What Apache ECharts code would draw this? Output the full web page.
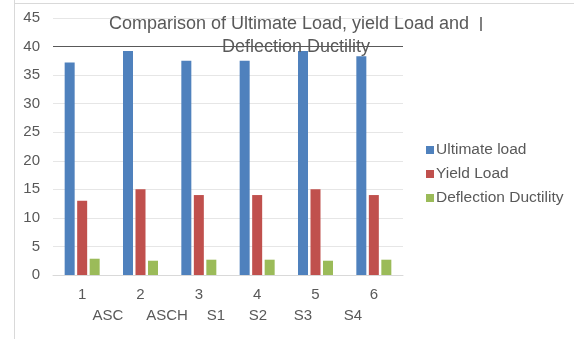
<!DOCTYPE html>
<html><head><meta charset="utf-8">
<script src="https://cdn.jsdelivr.net/npm/echarts@6/dist/echarts.min.js"></script>
<style>html,body{margin:0;padding:0;background:#fff}#c{width:574px;height:339px}</style>
</head><body><div id="c"></div>
<script>
const categories = ['1','2','3','4','5','6'];
const specimenLabels = ['ASC','ASCH','S1','S2','S3','S4'];
const ultimateLoad = [37.2, 39.2, 37.5, 37.5, 39.2, 38.3];
const yieldLoad = [13, 15, 14, 14, 15, 14];
const deflectionDuctility = [2.85, 2.5, 2.68, 2.68, 2.5, 2.68];
const refLineValue = 40;
const titleLines = ['Comparison of Ultimate Load, yield Load and', 'Deflection Ductility'];

const specimenX = [108, 167, 216, 258, 303, 353];
const chart = echarts.init(document.getElementById('c'));
const txt = '#595959';
const font = 'Arial, "Liberation Sans", sans-serif';
chart.setOption({
  animation: false,
  textStyle: {fontFamily: font},
  grid: {left: 53, right: 171, top: 18, bottom: 64, containLabel: false},
  legend: {
    orient: 'vertical', left: 421, top: 137, itemWidth: 8, itemHeight: 8, itemGap: 8,
    icon: 'rect', textStyle: {color: txt, fontSize: 15.5, fontFamily: font, padding: [0,0,0,-3]},
    data: ['Ultimate load', 'Yield Load', 'Deflection Ductility']
  },
  xAxis: {
    type: 'category', data: categories,
    axisLine: {lineStyle: {color: '#D9D9D9'}}, axisTick: {show: false},
    axisLabel: {color: txt, fontSize: 15, margin: 12, fontFamily: font}
  },
  yAxis: {
    type: 'value', min: 0, max: 45, interval: 5,
    axisLine: {show: false}, axisTick: {show: false},
    axisLabel: {color: txt, fontSize: 15, margin: 13, fontFamily: font},
    splitLine: {lineStyle: {color: '#E6E6E6'}}
  },
  series: [
    {name: 'Ultimate load', type: 'bar', data: ultimateLoad, barWidth: 10, barGap: '25%', itemStyle: {color: '#4F81BD'},
      markLine: {silent: true, symbol: 'none', label: {show: false}, lineStyle: {color: '#595959', type: 'solid', width: 1}, data: [{yAxis: refLineValue}]}},
    {name: 'Yield Load', type: 'bar', data: yieldLoad, barWidth: 10, barGap: '25%', itemStyle: {color: '#C0504D'}},
    {name: 'Deflection Ductility', type: 'bar', data: deflectionDuctility, barWidth: 10, barGap: '25%', itemStyle: {color: '#9BBB59'}}
  ],
  graphic: [
    {type: 'line', shape: {x1: 14.5, y1: 0, x2: 14.5, y2: 339}, style: {stroke: '#D9D9D9', lineWidth: 1}},
    {type: 'line', shape: {x1: 14, y1: 3.5, x2: 574, y2: 3.5}, style: {stroke: '#D9D9D9', lineWidth: 1}},
    {type: 'rect', shape: {x: 480, y: 17, width: 2, height: 14}, style: {fill: '#808080'}},
    {type: 'text', style: {text: titleLines[0], fill: txt, font: '18px ' + font, textAlign: 'center', textVerticalAlign: 'middle'}, x: 289, y: 24, z: 10},
    {type: 'text', style: {text: titleLines[1], fill: txt, font: '18px ' + font, textAlign: 'center', textVerticalAlign: 'middle'}, x: 296, y: 47, z: 10},
    ...specimenLabels.map((s, i) => ({type: 'text', style: {text: s, fill: txt, font: '15px ' + font, textAlign: 'center', textVerticalAlign: 'middle'}, x: specimenX[i], y: 316}))
  ]
});
</script></body></html>
